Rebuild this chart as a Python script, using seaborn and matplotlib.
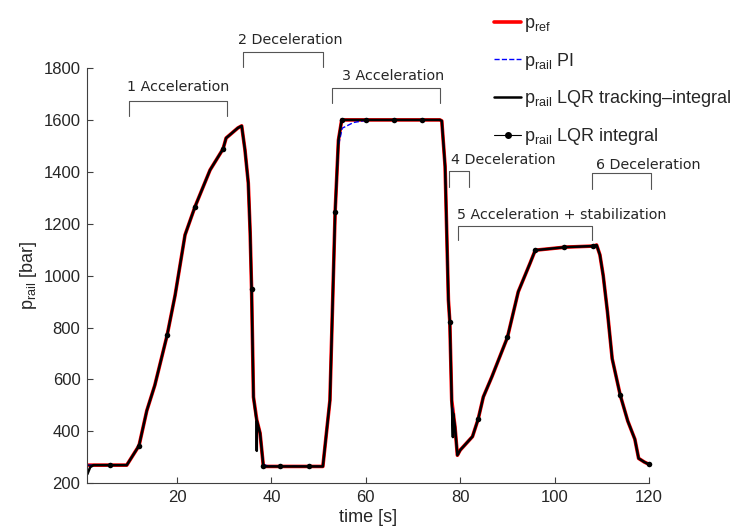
import matplotlib
matplotlib.use("Agg")
import matplotlib.pyplot as plt
from matplotlib.lines import Line2D
import seaborn as sns

# reference pressure p_ref [bar] over time [s]
t_ref = [1, 9.35, 11.95, 13.6, 15.3, 17.9, 19.6, 21.7, 23.8, 27.0,
         29.75, 30.4, 32.9, 33.7, 34.4, 35.1, 35.5, 35.8, 36.2, 36.9,
         37.6, 38.3, 50.9, 52.4, 53.5, 54.2, 54.9, 75.7, 76.1, 76.8,
         77.5, 77.8, 78.2, 78.9, 79.4, 80.0, 82.6, 83.8, 84.9, 86.7,
         90.0, 92.3, 94.8, 95.9, 102.4, 108.3, 108.9, 109.6, 110.3, 111.2,
         112.2, 113.9, 115.5, 117.0, 117.8, 119.0, 120]
p_ref = [270, 270, 345, 480, 578, 770, 925, 1157, 1265, 1407,
         1488, 1530, 1569, 1577, 1484, 1357, 1164, 948, 532, 444,
         393, 265, 265, 520, 1245, 1522, 1600, 1600, 1596, 1420,
         906, 822, 520, 417, 308, 328, 380, 447, 533, 610,
         762, 938, 1048, 1098, 1110, 1114, 1118, 1080, 1000, 860,
         680, 540, 440, 370, 296, 282, 273]

# PI controller (lags a bit at the top of step 3)
t_pi = [1, 9.35, 11.95, 13.6, 15.3, 17.9, 19.6, 21.7, 23.8, 27.0,
        29.75, 30.4, 32.9, 33.7, 34.4, 35.1, 35.5, 35.8, 36.2, 36.9,
        37.6, 38.3, 39.5, 50.9, 52.4, 53.5, 54.2, 55.0, 57.4, 60.0,
        62.0, 75.7, 76.1, 76.8, 77.5, 77.8, 78.2, 78.9, 79.4, 80.0,
        82.6, 83.8, 84.9, 86.7, 90.0, 92.3, 94.8, 95.9, 102.4, 108.3,
        108.9, 109.6, 110.3, 111.2, 112.2, 113.9, 115.5, 117.0, 117.8, 119.0,
        120]
p_pi = [270, 270, 345, 480, 578, 770, 925, 1157, 1265, 1407,
        1488, 1530, 1569, 1577, 1484, 1357, 1164, 948, 532, 444,
        393, 272, 266, 265, 520, 1245, 1500, 1568, 1590, 1598,
        1600, 1600, 1596, 1420, 906, 822, 520, 417, 310, 328,
        380, 447, 533, 610, 762, 938, 1048, 1098, 1110, 1114,
        1118, 1080, 1000, 860, 680, 540, 440, 370, 296, 282,
        273]

# LQR tracking-integral (short undershoots on the fast decelerations)
t_lqr_ti = [1, 1.6, 2.3, 9.35, 11.95, 13.6, 15.3, 17.9, 19.6, 21.7,
            23.8, 27.0, 29.75, 30.4, 32.9, 33.7, 34.4, 35.1, 35.5, 35.8,
            36.2, 36.85, 36.9, 36.95, 37.6, 38.3, 50.9, 52.4, 53.5, 54.2,
            54.9, 75.7, 76.1, 76.8, 77.5, 77.8, 78.2, 78.45, 78.5, 78.9,
            79.4, 80.0, 82.6, 83.8, 84.9, 86.7, 90.0, 92.3, 94.8, 95.9,
            102.4, 108.3, 108.9, 109.6, 110.3, 111.2, 112.2, 113.9, 115.5, 117.0,
            117.8, 119.0, 120]
p_lqr_ti = [235, 262, 270, 270, 345, 480, 578, 770, 925, 1157,
            1265, 1407, 1488, 1530, 1569, 1577, 1484, 1357, 1164, 948,
            532, 444, 325, 440, 393, 265, 265, 520, 1245, 1522,
            1600, 1600, 1596, 1420, 906, 822, 520, 378, 470, 417,
            308, 328, 380, 447, 533, 610, 762, 938, 1048, 1098,
            1110, 1114, 1118, 1080, 1000, 860, 680, 540, 440, 370,
            296, 282, 273]

# LQR integral follows the reference closely
p_lqr_i = list(p_ref)

# sampled markers of the LQR integral curve
mark_t = [5.8, 11.95, 17.9, 23.8, 29.75, 35.8, 38.3, 41.8, 47.9, 53.5,
          54.9, 60.0, 66.0, 72.0, 77.8, 83.8, 90.0, 95.9, 101.9, 108.1,
          113.9, 120]
mark_p = [270, 345, 770, 1265, 1488, 948, 265, 265, 265, 1245,
          1600, 1600, 1600, 1600, 822, 447, 762, 1098, 1110, 1115,
          540, 273]

# phase annotations: label, start, end, bracket top, leg end, text x, text y, align
phases = [
    ("1 Acceleration", 9.9, 30.5, 1674, 1615, 20.2, 1726, "center"),
    ("2 Deceleration", 33.9, 51.0, 1863, 1805, 43.9, 1908, "center"),
    ("3 Acceleration", 52.9, 75.7, 1723, 1666, 65.7, 1769, "center"),
    ("4 Deceleration", 77.6, 81.8, 1403, 1343, 78.0, 1446, "left"),
    ("5 Acceleration + stabilization", 79.5, 108.0, 1192, 1137, 79.3, 1234, "left"),
    ("6 Deceleration", 107.9, 120.4, 1394, 1334, 108.7, 1426, "left"),
]

sns.set_style("ticks", {"xtick.direction": "in", "ytick.direction": "in"})
plt.rcParams["font.family"] = ["Liberation Sans", "DejaVu Sans"]
plt.rcParams["mathtext.fontset"] = "custom"
plt.rcParams["mathtext.rm"] = "Liberation Sans"
plt.rcParams["mathtext.it"] = "Liberation Sans:italic"

fig = plt.figure(figsize=(7.37, 5.27), dpi=100)
ax = fig.add_axes([0.1185, 0.0829, 0.7621, 0.7881])

sns.lineplot(x=t_ref, y=p_ref, color="red", lw=2.6, ax=ax, estimator=None, sort=False)
sns.lineplot(x=t_pi, y=p_pi, color="blue", lw=1.0, linestyle="--", ax=ax, estimator=None, sort=False)
sns.lineplot(x=t_lqr_ti, y=p_lqr_ti, color="black", lw=1.8, ax=ax, estimator=None, sort=False)
sns.lineplot(x=t_ref, y=p_lqr_i, color="black", lw=0.8, ax=ax, estimator=None, sort=False)
sns.scatterplot(x=mark_t, y=mark_p, color="black", s=16, edgecolor="black", linewidth=0,
                ax=ax, zorder=5, clip_on=False)

ax.set_xlim(1, 120)
ax.set_ylim(200, 1800)
ax.set_xticks(range(20, 121, 20))
ax.set_yticks(range(200, 1801, 200))
sns.despine(ax=ax)
for s in ["left", "bottom"]:
    ax.spines[s].set_color("#404040")
    ax.spines[s].set_linewidth(0.8)
ax.tick_params(length=4, width=0.8, color="#404040", labelsize=12, pad=5)

ax.set_xlabel("time [s]", fontsize=13, labelpad=3)
ax.set_ylabel(r"$\mathrm{p_{rail}}$ [bar]", fontsize=13, labelpad=3)

for label, t0, t1, top, leg, tx, ty, ha in phases:
    ax.plot([t0, t0, t1, t1], [leg, top, top, leg], color="#555555", lw=0.8, clip_on=False)
    ax.text(tx, ty, label, ha=ha, va="center", fontsize=10.3, family="DejaVu Sans", clip_on=False)

handles = [
    Line2D([], [], color="red", lw=2.6),
    Line2D([], [], color="blue", lw=1.0, ls="--"),
    Line2D([], [], color="black", lw=1.8),
    Line2D([], [], color="black", lw=0.8, marker="o", ms=4),
]
labels = [
    r"$\mathrm{p_{ref}}$",
    r"$\mathrm{p_{rail}}$ PI",
    r"$\mathrm{p_{rail}}$ LQR tracking–integral",
    r"$\mathrm{p_{rail}}$ LQR integral",
]
fig.legend(handles, labels, loc="upper left", bbox_to_anchor=(494 / 737, 1 - 15 / 527),
           frameon=False, fontsize=13, handlelength=1.5, handletextpad=0.17,
           labelspacing=0.92, borderaxespad=0, borderpad=0)

fig.savefig("out.png", dpi=100)
